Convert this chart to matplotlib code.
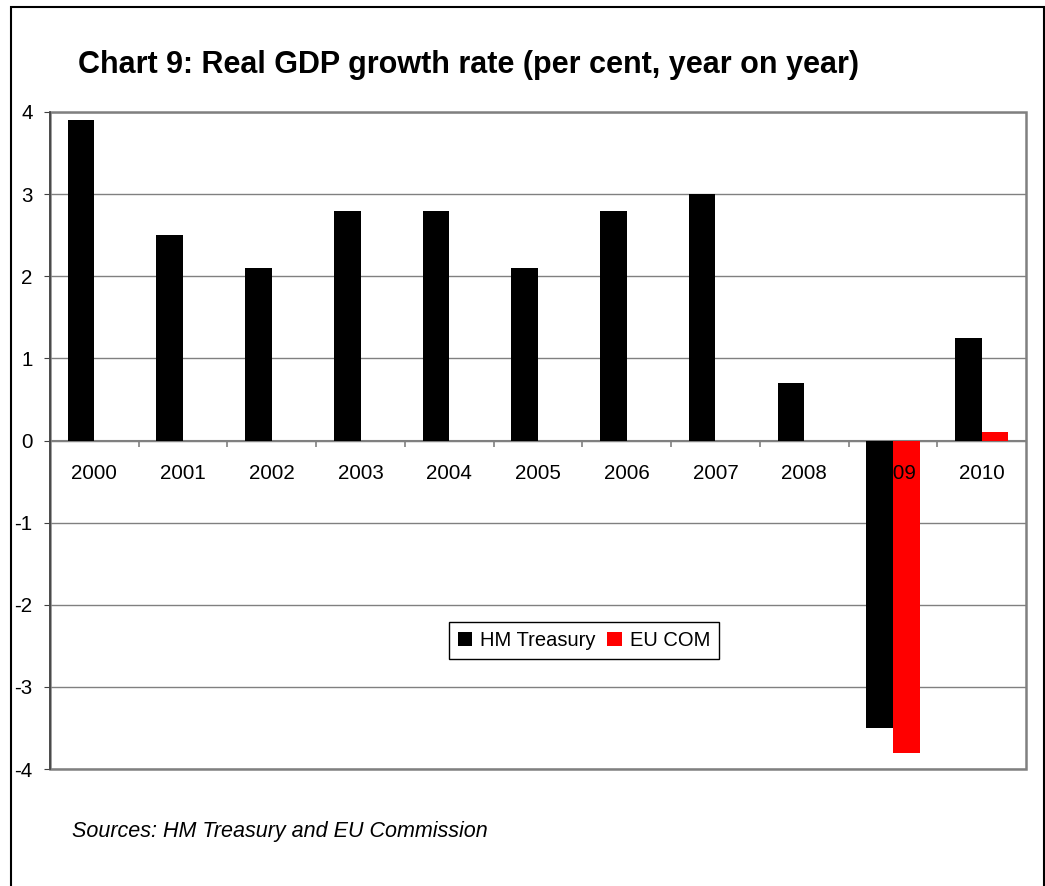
"""Chart 9: real GDP growth rate, HM Treasury vs EU Commission."""

import matplotlib

matplotlib.use("Agg")

import matplotlib.pyplot as plt  # noqa: E402
import numpy as np  # noqa: E402
from matplotlib.patches import Rectangle  # noqa: E402

plt.rcParams["font.family"] = ["Liberation Sans", "DejaVu Sans"]
plt.rcParams["axes.unicode_minus"] = False

years = ["2000", "2001", "2002", "2003", "2004", "2005", "2006", "2007", "2008", "2009", "2010"]
hm_treasury = [3.9, 2.5, 2.1, 2.8, 2.8, 2.1, 2.8, 3.0, 0.7, -3.5, 1.25]
eu_com = [np.nan, np.nan, np.nan, np.nan, np.nan, np.nan, np.nan, np.nan, np.nan, -3.8, 0.1]

GRID = "#808080"
WIDTH = 0.3

fig = plt.figure(figsize=(10.45, 8.86), dpi=100)
ax = fig.add_axes([0.0478, 0.132, 0.934, 0.7416])

x = np.arange(len(years))
ax.bar(x - WIDTH / 2, hm_treasury, WIDTH, color="black", label="HM Treasury", zorder=3)
ax.bar(x + WIDTH / 2, eu_com, WIDTH, color="#ff0000", label="EU COM", zorder=3)

ax.set_xlim(-0.5, len(years) - 0.5)
ax.set_ylim(-4, 4)
ax.set_yticks(range(-4, 5))
ax.yaxis.grid(True, color=GRID, linewidth=1.0)
ax.set_axisbelow(True)
# year labels are painted over the bars
ax.xaxis.set_zorder(4)

# category axis sits on the zero line, with boundary ticks hanging below it
ax.spines["bottom"].set_position(("data", 0))
ax.spines["bottom"].set_color(GRID)
ax.spines["bottom"].set_linewidth(1.5)
ax.spines["bottom"].set_zorder(2)
for side in ("top", "right"):
    ax.spines[side].set_visible(False)
ax.spines["left"].set_color("#404040")
ax.spines["left"].set_linewidth(1.2)
ax.add_patch(Rectangle((0, 0), 1, 1, transform=ax.transAxes, fill=False,
                       edgecolor=GRID, linewidth=1.8, clip_on=False, zorder=1))

ax.set_xticks(x)
ax.set_xticklabels(years)
ax.set_xticks(np.arange(0.5, len(years) - 0.5), minor=True)
ax.tick_params(axis="x", which="major", length=0, pad=17, labelsize=14.8)
ax.tick_params(axis="x", which="minor", direction="out", length=4, color=GRID, width=1.2)
ax.tick_params(axis="y", direction="out", length=4.5, pad=8, labelsize=14.8, color="#404040")

ax.legend(loc="center", bbox_to_anchor=(0.547, 0.195), ncol=2, fontsize=14.5,
          frameon=True, fancybox=False, edgecolor="black", framealpha=1,
          handlelength=0.7, handleheight=0.7, handletextpad=0.4, columnspacing=0.6,
          borderpad=0.45)

fig.text(0.0746, 1 - 65 / 886, "Chart 9: Real GDP growth rate (per cent, year on year)",
         fontsize=22, fontweight="bold", va="center", ha="left")
fig.text(0.069, 1 - 832 / 886, "Sources: HM Treasury and EU Commission",
         fontsize=15.5, style="italic", va="center", ha="left")

# outer frame, open at the bottom edge of the image
fig.add_artist(Rectangle((11 / 1045, -0.05), 1033 / 1045, 1.05 - 7 / 886,
                         transform=fig.transFigure, fill=False, edgecolor="black",
                         linewidth=1.5, clip_on=False))

fig.savefig("out.png", dpi=100)
